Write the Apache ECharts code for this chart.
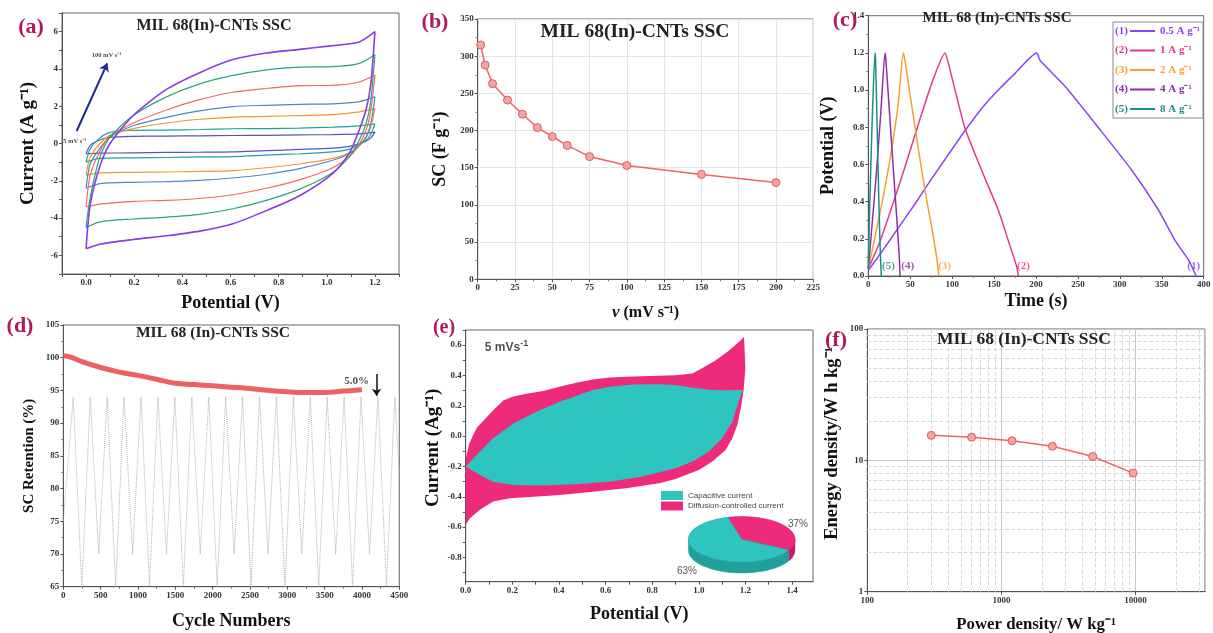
<!DOCTYPE html>
<html><head><meta charset="utf-8">
<script src="https://cdn.jsdelivr.net/npm/echarts@6/dist/echarts.min.js"></script>
<style>html,body{margin:0;padding:0;background:#fff}#c{width:1213px;height:633px}</style>
</head><body><div id="c"></div>
<script>
// ================= DATA =================
// (a) CV curves, potentials (V) of forward and reverse branches
const cvFwdV = [0, 0.017, 0.058, 0.1, 0.196, 0.334, 0.472, 0.61, 0.749, 0.887, 1.025, 1.135, 1.2];
const cvRevV = [1.2, 1.183, 1.163, 1.128, 1.094, 1.025, 0.887, 0.749, 0.61, 0.472, 0.334, 0.196, 0.058, 0];
const cvRates = ['5 mV/s', '10 mV/s', '20 mV/s', '30 mV/s', '50 mV/s', '75 mV/s', '100 mV/s'];
const cv5Fwd = [-0.55, -0.1, 0.2, 0.33, 0.38, 0.4, 0.41, 0.43, 0.44, 0.46, 0.48, 0.52, 0.61];
const cv5Rev = [0.61, 0.3, 0.12, -0.05, -0.15, -0.25, -0.32, -0.38, -0.45, -0.47, -0.48, -0.5, -0.52, -0.55];
const cv10Fwd = [-1.0, -0.29, 0.3, 0.6, 0.7, 0.72, 0.75, 0.79, 0.8, 0.83, 0.88, 0.95, 1.05];
const cv10Rev = [1.05, 0.5, 0.16, -0.1, -0.3, -0.45, -0.55, -0.62, -0.7, -0.72, -0.75, -0.77, -0.8, -1.0];
const cv20Fwd = [-1.7, -0.74, 0.0, 0.45, 0.8, 1.1, 1.3, 1.42, 1.45, 1.5, 1.55, 1.7, 1.87];
const cv20Rev = [1.87, 0.9, 0.3, -0.2, -0.5, -0.8, -1.1, -1.3, -1.45, -1.5, -1.53, -1.55, -1.58, -1.7];
const cv30Fwd = [-2.4, -1.1, -0.25, 0.35, 0.95, 1.4, 1.75, 1.98, 2.05, 2.1, 2.13, 2.25, 2.5];
const cv30Rev = [2.5, 1.06, 0.34, -0.2, -0.55, -0.9, -1.35, -1.65, -1.85, -1.98, -2.05, -2.08, -2.15, -2.4];
const cv50Fwd = [-3.4, -1.7, -0.4, 0.4, 1.1, 1.8, 2.35, 2.75, 2.95, 3.1, 3.12, 3.3, 3.67];
const cv50Rev = [3.67, 1.78, 0.7, -0.2, -0.7, -1.3, -1.95, -2.4, -2.75, -2.95, -3.05, -3.1, -3.25, -3.4];
const cv75Fwd = [-4.5, -2.9, -0.7, 0.35, 1.5, 2.5, 3.2, 3.65, 3.95, 4.1, 4.12, 4.3, 4.76];
const cv75Rev = [4.76, 2.3, 1.06, 0.0, -0.7, -1.55, -2.45, -3.05, -3.5, -3.8, -3.95, -4.05, -4.2, -4.5];
const cv100Fwd = [-5.64, -3.3, -1.2, 0.0, 1.5, 2.9, 3.8, 4.5, 4.85, 5.05, 5.25, 5.45, 6.0];
const cv100Rev = [6.0, 3.2, 1.8, 0.5, -0.5, -1.6, -2.8, -3.6, -4.3, -4.7, -4.95, -5.15, -5.4, -5.64];

// (b) specific capacitance vs scan rate
const bScan = [2, 5, 10, 20, 30, 40, 50, 60, 75, 100, 150, 200];
const bSC = [315, 288, 263, 241, 222, 204, 192, 180, 165, 153, 141, 130];

// (c) GCD curves
const gcdNames = ['0.5 A g\u207B\u00B9', '1 A g\u207B\u00B9', '2 A g\u207B\u00B9', '4 A g\u207B\u00B9', '8 A g\u207B\u00B9'];
const gcd1T = [0, 16, 36, 56, 75, 95, 115, 135, 155, 175, 200.8, 204.8, 234.6, 274, 314, 346, 366, 382, 391];
const gcd1V = [0.03, 0.13, 0.26, 0.39, 0.52, 0.65, 0.78, 0.9, 1.0, 1.09, 1.2, 1.16, 1.02, 0.80, 0.57, 0.355, 0.19, 0.086, 0];
const gcd2T = [0, 13, 28, 44, 60, 76, 91.5, 94.6, 115, 135, 155, 167, 177, 179];
const gcd2V = [0.04, 0.175, 0.37, 0.59, 0.82, 1.04, 1.2, 1.16, 0.80, 0.57, 0.355, 0.19, 0.05, 0];
const gcd3T = [0, 8, 17.9, 27.8, 35.8, 41.7, 43.7, 55.7, 67.6, 75.5, 81.5, 84.3];
const gcd3V = [0.04, 0.21, 0.43, 0.68, 0.93, 1.2, 1.16, 0.80, 0.46, 0.265, 0.10, 0];
const gcd4T = [0, 4, 9.9, 15.1, 19.9, 21, 27.8, 33.8, 37, 37.8];
const gcd4V = [0.04, 0.25, 0.57, 0.89, 1.2, 1.16, 0.71, 0.32, 0.1, 0];
const gcd5T = [0, 2, 4.8, 7.95, 8.7, 11.9, 13.9, 15.5];
const gcd5V = [0.04, 0.43, 0.86, 1.2, 1.16, 0.53, 0.18, 0];

// (d) cycling stability
const dCycle = [0, 100, 250, 500, 750, 1000, 1250, 1500, 1750, 2000, 2250, 2500, 2750, 3000, 3250, 3500, 3750, 4000];
const dRet = [100.3, 100.1, 99.4, 98.5, 97.8, 97.3, 96.7, 96.1, 95.9, 95.7, 95.5, 95.3, 95.0, 94.8, 94.7, 94.7, 94.9, 95.1];
const dBgX = [0,134,247,361,474,588,701,814,928,1041,1154,1268,1381,1494,1608,1721,1834,1948,2061,2174,2288,2401,2514,2628,2741,2854,2968,3081,3194,3308,3421,3534,3648,3761,3874,3988,4101,4214,4328,4441,4500];
const dBgY = [75,94,65,94,70,94,65,94,70,94,65,94,70,94,65,94,70,94,65,94,70,94,65,94,70,94,65,94,70,94,65,94,70,94,65,94,70,94,65,94,82];

// (e) capacitive / diffusion separation at 5 mV/s
const ePinkV = [0,0.015,0.033,0.05,0.075,0.118,0.161,0.204,0.261,0.332,0.403,0.474,0.546,0.617,0.688,0.83,0.9,0.973,1.016,1.073,1.13,1.179,1.194,1.2,1.192,1.18,1.165,1.144,1.115,1.058,1.0,0.9,0.83,0.688,0.546,0.403,0.261,0.189,0.118,0.061,0.018,0];
const ePinkI = [-0.15,-0.05,0.01,0.06,0.1,0.17,0.235,0.262,0.28,0.297,0.325,0.352,0.374,0.386,0.392,0.398,0.402,0.413,0.45,0.5,0.565,0.63,0.655,0.45,0.3,0.183,0.073,-0.014,-0.091,-0.168,-0.223,-0.282,-0.31,-0.344,-0.366,-0.388,-0.403,-0.41,-0.431,-0.486,-0.541,-0.585];
const eTealV = [0,0.061,0.118,0.204,0.303,0.403,0.546,0.617,0.716,0.83,0.9,0.973,1.058,1.115,1.187,1.144,1.1,1.044,0.973,0.9,0.759,0.617,0.474,0.332,0.204,0.118,0.061];
const eTealI = [-0.2,-0.102,-0.014,0.084,0.161,0.227,0.304,0.326,0.341,0.343,0.337,0.319,0.304,0.302,0.304,0.095,-0.014,-0.102,-0.168,-0.212,-0.267,-0.3,-0.317,-0.326,-0.322,-0.3,-0.256];
const pieNames = ['Capacitive current', 'Diffusion-controlled current'];
const pieVals = [63, 37];

// (f) Ragone plot
const fPower = [300, 600, 1200, 2400, 4800, 9600];
const fEnergy = [15.5, 15.0, 14.1, 12.8, 10.7, 8.0];

// ================= STYLE =================
const FONT = 'Liberation Serif';
const PANEL = '#b5175c';
const TEAL = '#2ec4c0', PINK = '#ee2a7b';
const cvColors = ['#5454c8', '#1aa3a3', '#f0962a', '#4f86c6', '#ef6a5f', '#2aa870', '#8b3be8'];
const gcdColors = ['#8a44f0', '#e33a86', '#f5a030', '#8e2fa6', '#17908a'];
const RED = '#ef6464';

const zip = (a, b) => a.map((v, i) => [v, b[i]]);
function merge(t, s) {
  for (const k in s) {
    if (s[k] && typeof s[k] === 'object' && !Array.isArray(s[k]) && t[k] && typeof t[k] === 'object' && !Array.isArray(t[k])) merge(t[k], s[k]);
    else t[k] = s[k];
  }
  return t;
}
function ax(gi, extra) {
  return merge({
    type: 'value', gridIndex: gi,
    axisLine: { show: true, onZero: false, lineStyle: { color: '#555' } },
    axisTick: { show: true, length: 3, lineStyle: { color: '#555' } },
    minorTick: { show: true, splitNumber: 2, length: 2, lineStyle: { color: '#777' } },
    splitLine: { show: false },
    axisLabel: { fontSize: 9, fontFamily: FONT, fontWeight: 'bold', color: '#333', margin: 4, formatter: v => String(v) },
    nameLocation: 'middle',
    nameTextStyle: { fontFamily: FONT, fontWeight: 'bold', color: '#111' }
  }, extra);
}
function grid(l, t, r, b) {
  return { left: l, top: t, width: r - l, height: b - t, show: true, borderColor: '#666', borderWidth: 1, backgroundColor: 'rgba(0,0,0,0)', outerBoundsMode: 'none' };
}
function textSeries(gi, pts, texts, lbl) {
  return {
    type: 'scatter', xAxisIndex: gi, yAxisIndex: gi, symbolSize: 0, silent: true, z: 20,
    data: pts.map((p, i) => ({ value: p, label: { formatter: texts[i] } })),
    label: merge({ show: true, position: 'inside', fontFamily: FONT, fontWeight: 'bold' }, lbl)
  };
}
const evenFmt = (scale, dec) => v => { const k = Math.round(v * scale); return (k % 2 === 0) ? (dec ? (k / scale).toFixed(dec) : String(k / scale)) : ''; };

// ================= SERIES =================
const series = [];
// (a)
const cvFwd = [cv5Fwd, cv10Fwd, cv20Fwd, cv30Fwd, cv50Fwd, cv75Fwd, cv100Fwd];
const cvRev = [cv5Rev, cv10Rev, cv20Rev, cv30Rev, cv50Rev, cv75Rev, cv100Rev];
cvRates.forEach((n, i) => {
  series.push({
    type: 'line', name: n, xAxisIndex: 0, yAxisIndex: 0, symbol: 'none', smooth: 0.25,
    lineStyle: { color: cvColors[i], width: i === 6 ? 1.6 : 1.2 },
    data: zip(cvFwdV, cvFwd[i]).concat(zip(cvRevV, cvRev[i])), silent: true
  });
});
series.push({
  type: 'line', xAxisIndex: 0, yAxisIndex: 0, data: [], silent: true,
  markLine: { silent: true, symbol: ['none', 'arrow'], symbolSize: 8, label: { show: false },
    lineStyle: { color: '#1b2a8c', width: 2, type: 'solid' },
    data: [[{ coord: [-0.039, 0.67] }, { coord: [0.088, 4.3] }]] }
});
series.push(textSeries(0, [[0.085, 4.75], [-0.047, 0.1]], ['100 mV s\u207B\u00B9', '5 mV s\u207B\u00B9'], { fontSize: 6.5, color: '#222' }));

// (b)
series.push({
  type: 'line', xAxisIndex: 1, yAxisIndex: 1, data: zip(bScan, bSC), symbol: 'circle', symbolSize: 8,
  lineStyle: { color: RED, width: 1.5 }, itemStyle: { color: '#f6a3a3', borderColor: '#e25c5c', borderWidth: 1 }, silent: true
});

// (c)
const gT = [gcd1T, gcd2T, gcd3T, gcd4T, gcd5T], gV = [gcd1V, gcd2V, gcd3V, gcd4V, gcd5V];
gcdNames.forEach((n, i) => {
  series.push({ type: 'line', name: n, xAxisIndex: 2, yAxisIndex: 2, symbol: 'none', smooth: 0.2,
    lineStyle: { color: gcdColors[i], width: 1.5 }, itemStyle: { color: gcdColors[i] }, data: zip(gT[i], gV[i]), silent: true });
});
const cLblPos = [[388, 0.055], [185, 0.055], [91, 0.055], [47, 0.055], [24, 0.055]];
cLblPos.forEach((p, i) => series.push(textSeries(2, [p], ['(' + (i + 1) + ')'], { fontSize: 11, color: gcdColors[i] })));

// (d)
series.push({ type: 'line', xAxisIndex: 3, yAxisIndex: 3, symbol: 'none', data: zip(dBgX, dBgY),
  lineStyle: { color: '#b0b0b0', width: 1, type: 'dotted' }, silent: true, z: 1 });
series.push({ type: 'line', xAxisIndex: 3, yAxisIndex: 3, symbol: 'none', smooth: 0.4, data: zip(dCycle, dRet),
  lineStyle: { color: 'rgba(236,80,80,0.9)', width: 5 }, silent: true, z: 3,
  markLine: { silent: true, symbol: ['none', 'arrow'], symbolSize: 7, label: { show: false },
    lineStyle: { color: '#111', width: 1.5, type: 'solid' },
    data: [[{ coord: [4195, 97.5] }, { coord: [4195, 94.2] }]] } });
series.push(textSeries(3, [[3930, 96.4]], ['5.0%'], { fontSize: 11, color: '#222' }));

// (e)
series.push({ type: 'custom', name: pieNames[1], xAxisIndex: 4, yAxisIndex: 4, coordinateSystem: 'cartesian2d',
  data: [[0.5, 0]], itemStyle: { color: PINK }, silent: true, z: 2,
  renderItem: (p, api) => ({ type: 'polygon', shape: { points: ePinkV.map((v, i) => api.coord([v, ePinkI[i]])) }, style: { fill: PINK } }) });
series.push({ type: 'custom', name: pieNames[0], xAxisIndex: 4, yAxisIndex: 4, coordinateSystem: 'cartesian2d',
  data: [[0.5, 0]], itemStyle: { color: TEAL }, silent: true, z: 3,
  renderItem: (p, api) => ({ type: 'polygon', shape: { points: eTealV.map((v, i) => api.coord([v, eTealI[i]])) }, style: { fill: TEAL } }) });
series.push(textSeries(4, [[0.175, 0.585]], ['{a|5 mVs}{b|-1}'], { fontFamily: 'Liberation Sans', color: '#222',
  rich: { a: { fontSize: 12, fontWeight: 'bold', fontFamily: 'Liberation Sans', color: '#222' }, b: { fontSize: 9, fontWeight: 'bold', fontFamily: 'Liberation Sans', color: '#222', verticalAlign: 'top', padding: [0, 0, 8, 0] } } }));
// 3D-looking pie inset
series.push({ type: 'custom', coordinateSystem: 'none', silent: true, z: 10, data: [0],
  renderItem: () => {
    const cx = 741.7, cy = 539.3, rx = 53.3, ry = 22.7, depth = 11;
    const total = pieVals[0] + pieVals[1];
    const order = [{ v: pieVals[1], top: PINK, side: '#c51e62' }, { v: pieVals[0], top: TEAL, side: '#209f9b' }];
    let a = -105 * Math.PI / 180;
    const kids = [];
    const arc = (a0, a1, dy) => { const pts = []; const n = Math.max(2, Math.ceil(Math.abs(a1 - a0) / 0.05)); for (let k = 0; k <= n; k++) { const t = a0 + (a1 - a0) * k / n; pts.push([cx + rx * Math.cos(t), cy + ry * Math.sin(t) + dy]); } return pts; };
    const slices = order.map(o => { const a0 = a; const a1 = a + o.v / total * 2 * Math.PI; a = a1; return Object.assign({ a0, a1 }, o); });
    slices.forEach(s => {
      [[0, Math.PI], [2 * Math.PI, 3 * Math.PI], [-2 * Math.PI, -Math.PI]].forEach(([f0, f1]) => {
        const b0 = Math.max(s.a0, f0), b1 = Math.min(s.a1, f1);
        if (b1 > b0) {
          const topPts = arc(b0, b1, 0), botPts = arc(b1, b0, depth);
          kids.push({ type: 'polygon', shape: { points: topPts.concat(botPts) }, style: { fill: s.side, stroke: s.side, lineWidth: 0.5 } });
        }
      });
    });
    slices.forEach(s => {
      kids.push({ type: 'polygon', shape: { points: [[cx, cy]].concat(arc(s.a0, s.a1, 0)) }, style: { fill: s.top, stroke: s.side, lineWidth: 0.6 } });
    });
    kids.push({ type: 'text', style: { text: pieVals[1] + '%', x: 798, y: 524, align: 'center', verticalAlign: 'middle', fill: '#555', font: '10px Liberation Sans' } });
    kids.push({ type: 'text', style: { text: pieVals[0] + '%', x: 687, y: 571, align: 'center', verticalAlign: 'middle', fill: '#555', font: '10px Liberation Sans' } });
    return { type: 'group', children: kids };
  } });

// (f)
const fMinorX = [], fMinorY = [];
[100, 1000, 10000].forEach(d => { for (let m = 2; m <= 9; m++) if (d * m <= 33000) fMinorX.push(d * m); });
[1, 10].forEach(d => { for (let m = 2; m <= 9; m++) fMinorY.push(d * m); });
series.push({ type: 'scatter', xAxisIndex: 5, yAxisIndex: 5, data: [[100, 1]], symbolSize: 0, silent: true, z: 1,
  markLine: { silent: true, symbol: 'none', label: { show: false }, lineStyle: { color: '#d8d8d8', type: 'dashed', width: 1 },
    data: fMinorX.map(x => ({ xAxis: x })).concat(fMinorY.map(y => ({ yAxis: y }))) } });
series.push({ type: 'line', xAxisIndex: 5, yAxisIndex: 5, data: zip(fPower, fEnergy), symbol: 'circle', symbolSize: 8,
  lineStyle: { color: RED, width: 1.5 }, itemStyle: { color: '#f6a3a3', borderColor: '#e25c5c', borderWidth: 1 }, silent: true, z: 5 });

// ================= OPTION =================
const ttl = (text, cx, top, size, color) => ({ text, left: cx, top, textAlign: 'center', padding: 0,
  textStyle: { fontFamily: FONT, fontWeight: 'bold', fontSize: size, color: color || '#222' } });

const option = {
  animation: false,
  backgroundColor: '#fff',
  title: [
    ttl('(a)', 31, 16, 22, PANEL), ttl('(b)', 435, 11, 22, PANEL), ttl('(c)', 845, 9, 22, PANEL),
    ttl('(d)', 20, 315, 22, PANEL), ttl('(e)', 444, 318, 20, PANEL), ttl('(f)', 836, 329, 22, PANEL),
    ttl('MIL 68(In)-CNTs SSC', 214, 18, 16), ttl('MIL 68(In)-CNTs SSC', 635, 22, 19.5),
    ttl('MIL 68 (In)-CNTs SSC', 997, 11, 15), ttl('MIL 68 (In)-CNTs SSC', 213, 325, 15.5),
    ttl('MIL 68 (In)-CNTs SSC', 1024, 330, 17.5)
  ],
  grid: [grid(62, 13, 399, 274), grid(477.7, 19, 813.3, 279.3), grid(868.3, 15.7, 1203.7, 276),
         grid(63.3, 325, 399.3, 586.7), grid(465.7, 330, 813, 581.7), grid(867.3, 329, 1205, 591.7)],
  xAxis: [
    ax(0, { min: -0.1, max: 1.3, interval: 0.1, minorTick: { show: false }, axisLabel: { formatter: evenFmt(10, 1) },
      name: 'Potential (V)', nameGap: 20, nameTextStyle: { fontSize: 18 } }),
    ax(1, { min: 0, max: 225, interval: 25, splitLine: { show: true, lineStyle: { color: '#e4e4e4' } },
      name: '{i|\u03BD} (mV s\u207B\u00B9)', nameGap: 25, nameTextStyle: { fontSize: 16, rich: { i: { fontStyle: 'italic', fontWeight: 'bold', fontSize: 17, fontFamily: FONT, color: '#111' } } } }),
    ax(2, { min: 0, max: 400, interval: 50, name: 'Time (s)', nameGap: 16, nameTextStyle: { fontSize: 18 } }),
    ax(3, { min: 0, max: 4500, interval: 500, name: 'Cycle Numbers', nameGap: 26, nameTextStyle: { fontSize: 18 } }),
    ax(4, { min: 0, max: 1.49, minorTick: { show: false },
      axisLabel: { customValues: [0, 0.2, 0.4, 0.6, 0.8, 1.0, 1.2, 1.4], formatter: v => v.toFixed(1) },
      axisTick: { customValues: [0, 0.1, 0.2, 0.3, 0.4, 0.5, 0.6, 0.7, 0.8, 0.9, 1.0, 1.1, 1.2, 1.3, 1.4] },
      name: 'Potential (V)', nameGap: 24, nameTextStyle: { fontSize: 18 } }),
    ax(5, { type: 'log', logBase: 10, min: 100, max: 33000, minorTick: { show: false },
      axisLabel: { showMaxLabel: false }, splitLine: { show: true, lineStyle: { color: '#c8c8c8' } },
      name: 'Power density/ W kg\u207B\u00B9', nameGap: 24, nameTextStyle: { fontSize: 16.8 } })
  ],
  yAxis: [
    ax(0, { min: -7, max: 7, interval: 1, minorTick: { show: false }, axisLabel: { formatter: evenFmt(1, 0) },
      name: 'Current (A g\u207B\u00B9)', nameGap: 24, nameTextStyle: { fontSize: 19 } }),
    ax(1, { min: 0, max: 350, interval: 50, splitLine: { show: true, lineStyle: { color: '#e4e4e4' } },
      name: 'SC (F g\u207B\u00B9)', nameGap: 28, nameTextStyle: { fontSize: 18 } }),
    ax(2, { min: 0, max: 1.4, interval: 0.2, axisLabel: { formatter: v => v.toFixed(1) },
      name: 'Potential (V)', nameGap: 31, nameTextStyle: { fontSize: 18 } }),
    ax(3, { min: 65, max: 105, interval: 5, name: 'SC Retention (%)', nameGap: 27, nameTextStyle: { fontSize: 15 } }),
    ax(4, { min: -0.96, max: 0.7, minorTick: { show: false },
      axisLabel: { customValues: [-0.8, -0.6, -0.4, -0.2, 0, 0.2, 0.4, 0.6], formatter: v => v.toFixed(1) },
      axisTick: { customValues: [-0.9, -0.8, -0.7, -0.6, -0.5, -0.4, -0.3, -0.2, -0.1, 0, 0.1, 0.2, 0.3, 0.4, 0.5, 0.6, 0.7] },
      name: 'Current (Ag\u207B\u00B9)', nameGap: 23, nameTextStyle: { fontSize: 19, padding: [0, 0, 0, 16] } }),
    ax(5, { type: 'log', logBase: 10, min: 1, max: 100, minorTick: { show: false },
      splitLine: { show: true, lineStyle: { color: '#c8c8c8' } },
      name: 'Energy density/W h kg\u207B\u00B9', nameGap: 26, nameTextStyle: { fontSize: 18.5, padding: [0, 0, 0, 34] } })
  ],
  legend: [
    { data: gcdNames.map((n, i) => ({ name: n, textStyle: { color: gcdColors[i] } })), left: 1130, top: 25, orient: 'vertical',
      icon: 'rect', itemWidth: 25, itemHeight: 2, itemGap: 7.5, padding: 0, selectedMode: false,
      textStyle: { fontFamily: FONT, fontWeight: 'bold', fontSize: 11, lineHeight: 12 } },
    { data: pieNames, left: 661, top: 491, orient: 'vertical', icon: 'rect', itemWidth: 22, itemHeight: 9, itemGap: 1.5,
      padding: 0, selectedMode: false, textStyle: { fontFamily: 'Liberation Sans', fontSize: 8, color: '#444' } }
  ],
  graphic: [
    { type: 'rect', shape: { x: 1113, y: 22, width: 90, height: 96 }, style: { fill: 'rgba(0,0,0,0)', stroke: '#888', lineWidth: 1 }, z: 50 },
    ...gcdColors.map((c, i) => ({ type: 'text', x: 1115, y: 31 + i * 19.5, style: { text: '(' + (i + 1) + ')', fill: c, font: 'bold 11px Liberation Serif', verticalAlign: 'middle' }, z: 50 }))
  ],
  series
};
const chart = echarts.init(document.getElementById('c'));
chart.setOption(option);
</script>
</body></html>
